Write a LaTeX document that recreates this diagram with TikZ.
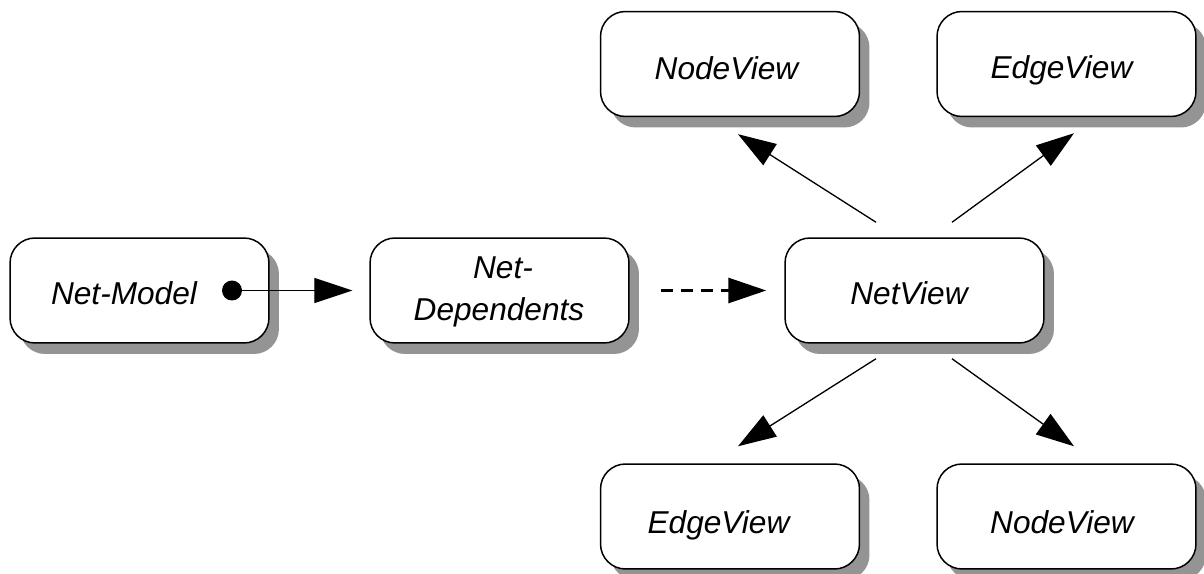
\documentclass[tikz,border=0pt]{standalone}
\usepackage{fontspec}
\setmainfont{Liberation Sans}
\usetikzlibrary{arrows.meta,shadows,calc}
\tikzset{
  box/.style={draw=black, line width=0.85pt, fill=white, rounded corners=0.5cm,
    minimum width=5.18cm, minimum height=2.1cm, inner sep=0pt,
    drop shadow={shadow xshift=0.2cm, shadow yshift=-0.22cm, fill=black!42, opacity=1}},
  lbl/.style={font=\fontsize{18}{21}\selectfont\itshape, inner sep=0pt, anchor=base},
  link/.style={line width=0.75pt, -{Triangle[length=0.76cm, width=0.5cm]}},
  dashlink/.style={line width=1.7pt, dash pattern=on 0.24cm off 0.16cm,
    -{Triangle[length=0.76cm, width=0.5cm]}},
}
\begin{document}
\begin{tikzpicture}[x=0.02cm, y=-0.02cm]
  \useasboundingbox (0,0) rectangle (1204,574);

  % boxes
  \node[box] (nm)  at (139.5,290.5) {};
  \node[box] (nd)  at (499.5,290.5) {};
  \node[box] (nv)  at (914.5,290.5) {};
  \node[box] (nvt) at (730,64) {};
  \node[box] (evt) at (1066.5,64) {};
  \node[box] (evb) at (730,516.5) {};
  \node[box] (nvb) at (1066.5,516.5) {};

  % box labels (placed on their baselines)
  \node[lbl] (nmT)  at (124,305) {Net-Model};
  \node[lbl] (ndT1) at (503,279) {Net-};
  \node[lbl] (ndT2) at (499,320) {Dependents};
  \node[lbl] (nvT)  at (909,305) {NetView};
  \node[lbl] (nvtT) at (726.5,80) {NodeView};
  \node[lbl] (evtT) at (1061.5,79) {EdgeView};
  \node[lbl] (evbT) at (718.5,533) {EdgeView};
  \node[lbl] (nvbT) at (1062,533) {NodeView};

  % end points of the connectors
  \coordinate (dot)  at ($(nm.center)+(92.5,0)$);
  \coordinate (ndIn) at ($(nd.west)+(-17,0)$);
  \coordinate (ndOut) at ($(nd.east)+(31,0)$);
  \coordinate (nvIn) at ($(nv.west)+(-18,0)$);
  \coordinate (nvUL) at ($(nv.north)+(-38.5,-15)$);
  \coordinate (nvUR) at ($(nv.north)+(37.5,-15)$);
  \coordinate (nvDL) at ($(nv.south)+(-38.5,15)$);
  \coordinate (nvDR) at ($(nv.south)+(37.5,15)$);
  \coordinate (nvtIn) at ($(nvt.south)+(8,17)$);
  \coordinate (evtIn) at ($(evt.south)+(7.5,16)$);
  \coordinate (evbIn) at ($(evb.north)+(8,-17)$);
  \coordinate (nvbIn) at ($(nvb.north)+(7.5,-17)$);

  % connectors
  \draw[link] (dot) -- (ndIn);
  \fill (dot) circle[radius=10];
  \draw[dashlink] (ndOut) -- (nvIn);
  \draw[link] (nvUL) -- (nvtIn);
  \draw[link] (nvUR) -- (evtIn);
  \draw[link] (nvDL) -- (evbIn);
  \draw[link] (nvDR) -- (nvbIn);
\end{tikzpicture}
\end{document}
